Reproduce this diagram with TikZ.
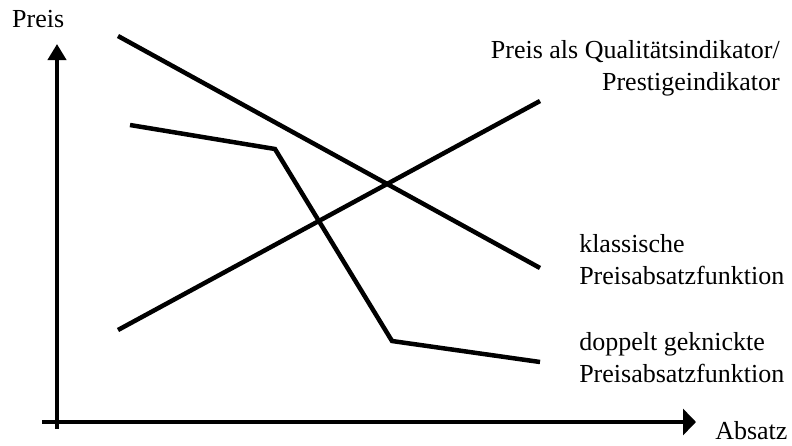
\documentclass[tikz,border=0pt]{standalone}
\usepackage{fontspec}
\setmainfont{Liberation Serif}
\usetikzlibrary{arrows.meta}

\begin{document}
\begin{tikzpicture}[x=0.5pt,y=-0.5pt,line width=2.25pt,
        lbl/.style={inner sep=0pt,font=\fontsize{13}{16.3}\selectfont}]
        \useasboundingbox (0,0) rectangle (792,445);

        % Achsen
        \coordinate (yfuss) at (57,429);
        \coordinate (yspitze) at (57,44);
        \coordinate (xfuss) at (42,422);
        \coordinate (xspitze) at (696,422);
        \draw[-{Triangle[length=8pt,width=9pt]}] (yfuss) -- (yspitze);
        \draw[-{Triangle[length=6.5pt,width=13pt]}] (xfuss) -- (xspitze);

        \node[lbl,anchor=north west](preis) at (10,8) {Preis};
        \node[lbl,anchor=north west](absatz) at (713,419) {Absatz};

        % Kurven
        \coordinate (kl0) at (118,36);
        \coordinate (kl1) at (540,268);
        \coordinate (qu0) at (118,330);
        \coordinate (qu1) at (540,101);
        \coordinate (dg0) at (130,125);
        \coordinate (dg1) at (275,149);
        \coordinate (dg2) at (392,341);
        \coordinate (dg3) at (540,362);

        \draw (kl0) -- (kl1);
        \draw (qu0) -- (qu1);
        \draw[line join=miter] (dg0) -- (dg1) -- (dg2) -- (dg3);

        \node[lbl,anchor=north east,align=right](qual) at (782,38) {Preis als Qualitätsindikator/\\Prestigeindikator};
        \node[lbl,anchor=north west,align=left](klass) at (577,232) {klassische\\Preisabsatzfunktion};
        \node[lbl,anchor=north west,align=left](dopp) at (577,330) {doppelt geknickte\\Preisabsatzfunktion};
    \end{tikzpicture}
\end{document}
